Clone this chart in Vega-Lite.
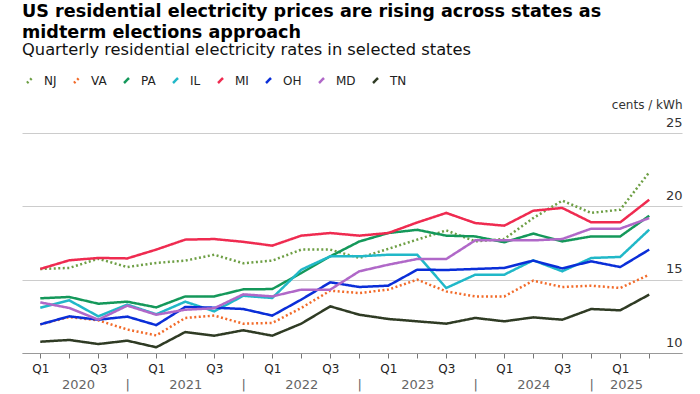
{
  "$schema": "https://vega.github.io/schema/vega-lite/v6.json",
  "width": 660,
  "height": 220,
  "autosize": {"type": "none"},
  "padding": {"left": 22, "top": 133, "right": 18, "bottom": 41},
  "background": "white",
  "title": {
    "text": ["US residential electricity prices are rising across states as", "midterm elections approach"],
    "subtitle": "Quarterly residential electricity rates in selected states",
    "anchor": "start",
    "frame": "group",
    "font": "DejaVu Sans",
    "fontSize": 17.6,
    "fontWeight": "bold",
    "lineHeight": 21,
    "color": "#000",
    "subtitleFont": "DejaVu Sans",
    "subtitleFontSize": 16.3,
    "subtitleColor": "#111",
    "subtitlePadding": 0,
    "offset": 16
  },
  "data": {
    "values": [
      {"state": "NJ", "q": 2020.00, "v": 15.73}, {"state": "NJ", "q": 2020.25, "v": 15.80}, {"state": "NJ", "q": 2020.50, "v": 16.43}, {"state": "NJ", "q": 2020.75, "v": 15.86},
      {"state": "NJ", "q": 2021.00, "v": 16.14}, {"state": "NJ", "q": 2021.25, "v": 16.30}, {"state": "NJ", "q": 2021.50, "v": 16.70}, {"state": "NJ", "q": 2021.75, "v": 16.12},
      {"state": "NJ", "q": 2022.00, "v": 16.30}, {"state": "NJ", "q": 2022.25, "v": 17.05}, {"state": "NJ", "q": 2022.50, "v": 17.05}, {"state": "NJ", "q": 2022.75, "v": 16.48},
      {"state": "NJ", "q": 2023.00, "v": 17.10}, {"state": "NJ", "q": 2023.25, "v": 17.73}, {"state": "NJ", "q": 2023.50, "v": 18.36}, {"state": "NJ", "q": 2023.75, "v": 17.61},
      {"state": "NJ", "q": 2024.00, "v": 17.77}, {"state": "NJ", "q": 2024.25, "v": 19.20}, {"state": "NJ", "q": 2024.50, "v": 20.39}, {"state": "NJ", "q": 2024.75, "v": 19.55},
      {"state": "NJ", "q": 2025.00, "v": 19.77}, {"state": "NJ", "q": 2025.25, "v": 22.32},

      {"state": "VA", "q": 2020.00, "v": 11.95}, {"state": "VA", "q": 2020.25, "v": 12.45}, {"state": "VA", "q": 2020.50, "v": 12.23}, {"state": "VA", "q": 2020.75, "v": 11.60},
      {"state": "VA", "q": 2021.00, "v": 11.20}, {"state": "VA", "q": 2021.25, "v": 12.39}, {"state": "VA", "q": 2021.50, "v": 12.55}, {"state": "VA", "q": 2021.75, "v": 12.00},
      {"state": "VA", "q": 2022.00, "v": 12.05}, {"state": "VA", "q": 2022.25, "v": 13.07}, {"state": "VA", "q": 2022.50, "v": 14.25}, {"state": "VA", "q": 2022.75, "v": 14.09},
      {"state": "VA", "q": 2023.00, "v": 14.32}, {"state": "VA", "q": 2023.25, "v": 15.00}, {"state": "VA", "q": 2023.50, "v": 14.20}, {"state": "VA", "q": 2023.75, "v": 13.86},
      {"state": "VA", "q": 2024.00, "v": 13.86}, {"state": "VA", "q": 2024.25, "v": 14.93}, {"state": "VA", "q": 2024.50, "v": 14.50}, {"state": "VA", "q": 2024.75, "v": 14.59},
      {"state": "VA", "q": 2025.00, "v": 14.43}, {"state": "VA", "q": 2025.25, "v": 15.34},

      {"state": "PA", "q": 2020.00, "v": 13.73}, {"state": "PA", "q": 2020.25, "v": 13.82}, {"state": "PA", "q": 2020.50, "v": 13.36}, {"state": "PA", "q": 2020.75, "v": 13.50},
      {"state": "PA", "q": 2021.00, "v": 13.11}, {"state": "PA", "q": 2021.25, "v": 13.86}, {"state": "PA", "q": 2021.50, "v": 13.86}, {"state": "PA", "q": 2021.75, "v": 14.34},
      {"state": "PA", "q": 2022.00, "v": 14.36}, {"state": "PA", "q": 2022.25, "v": 15.45}, {"state": "PA", "q": 2022.50, "v": 16.59}, {"state": "PA", "q": 2022.75, "v": 17.60},
      {"state": "PA", "q": 2023.00, "v": 18.18}, {"state": "PA", "q": 2023.25, "v": 18.40}, {"state": "PA", "q": 2023.50, "v": 18.00}, {"state": "PA", "q": 2023.75, "v": 17.95},
      {"state": "PA", "q": 2024.00, "v": 17.55}, {"state": "PA", "q": 2024.25, "v": 18.14}, {"state": "PA", "q": 2024.50, "v": 17.61}, {"state": "PA", "q": 2024.75, "v": 17.95},
      {"state": "PA", "q": 2025.00, "v": 17.95}, {"state": "PA", "q": 2025.25, "v": 19.36},

      {"state": "IL", "q": 2020.00, "v": 13.09}, {"state": "IL", "q": 2020.25, "v": 13.59}, {"state": "IL", "q": 2020.50, "v": 12.50}, {"state": "IL", "q": 2020.75, "v": 13.30},
      {"state": "IL", "q": 2021.00, "v": 12.64}, {"state": "IL", "q": 2021.25, "v": 13.50}, {"state": "IL", "q": 2021.50, "v": 12.84}, {"state": "IL", "q": 2021.75, "v": 13.90},
      {"state": "IL", "q": 2022.00, "v": 13.75}, {"state": "IL", "q": 2022.25, "v": 15.68}, {"state": "IL", "q": 2022.50, "v": 16.59}, {"state": "IL", "q": 2022.75, "v": 16.59},
      {"state": "IL", "q": 2023.00, "v": 16.70}, {"state": "IL", "q": 2023.25, "v": 16.70}, {"state": "IL", "q": 2023.50, "v": 14.43}, {"state": "IL", "q": 2023.75, "v": 15.34},
      {"state": "IL", "q": 2024.00, "v": 15.34}, {"state": "IL", "q": 2024.25, "v": 16.32}, {"state": "IL", "q": 2024.50, "v": 15.57}, {"state": "IL", "q": 2024.75, "v": 16.48},
      {"state": "IL", "q": 2025.00, "v": 16.55}, {"state": "IL", "q": 2025.25, "v": 18.41},

      {"state": "MI", "q": 2020.00, "v": 15.73}, {"state": "MI", "q": 2020.25, "v": 16.32}, {"state": "MI", "q": 2020.50, "v": 16.48}, {"state": "MI", "q": 2020.75, "v": 16.45},
      {"state": "MI", "q": 2021.00, "v": 17.05}, {"state": "MI", "q": 2021.25, "v": 17.73}, {"state": "MI", "q": 2021.50, "v": 17.77}, {"state": "MI", "q": 2021.75, "v": 17.58},
      {"state": "MI", "q": 2022.00, "v": 17.32}, {"state": "MI", "q": 2022.25, "v": 18.00}, {"state": "MI", "q": 2022.50, "v": 18.18}, {"state": "MI", "q": 2022.75, "v": 18.00},
      {"state": "MI", "q": 2023.00, "v": 18.18}, {"state": "MI", "q": 2023.25, "v": 18.90}, {"state": "MI", "q": 2023.50, "v": 19.55}, {"state": "MI", "q": 2023.75, "v": 18.86},
      {"state": "MI", "q": 2024.00, "v": 18.68}, {"state": "MI", "q": 2024.25, "v": 19.70}, {"state": "MI", "q": 2024.50, "v": 19.89}, {"state": "MI", "q": 2024.75, "v": 18.91},
      {"state": "MI", "q": 2025.00, "v": 18.91}, {"state": "MI", "q": 2025.25, "v": 20.45},

      {"state": "OH", "q": 2020.00, "v": 11.95}, {"state": "OH", "q": 2020.25, "v": 12.50}, {"state": "OH", "q": 2020.50, "v": 12.27}, {"state": "OH", "q": 2020.75, "v": 12.48},
      {"state": "OH", "q": 2021.00, "v": 11.90}, {"state": "OH", "q": 2021.25, "v": 13.14}, {"state": "OH", "q": 2021.50, "v": 13.09}, {"state": "OH", "q": 2021.75, "v": 13.00},
      {"state": "OH", "q": 2022.00, "v": 12.55}, {"state": "OH", "q": 2022.25, "v": 13.64}, {"state": "OH", "q": 2022.50, "v": 14.82}, {"state": "OH", "q": 2022.75, "v": 14.50},
      {"state": "OH", "q": 2023.00, "v": 14.59}, {"state": "OH", "q": 2023.25, "v": 15.68}, {"state": "OH", "q": 2023.50, "v": 15.66}, {"state": "OH", "q": 2023.75, "v": 15.73},
      {"state": "OH", "q": 2024.00, "v": 15.80}, {"state": "OH", "q": 2024.25, "v": 16.30}, {"state": "OH", "q": 2024.50, "v": 15.77}, {"state": "OH", "q": 2024.75, "v": 16.25},
      {"state": "OH", "q": 2025.00, "v": 15.86}, {"state": "OH", "q": 2025.25, "v": 17.05},

      {"state": "MD", "q": 2020.00, "v": 13.45}, {"state": "MD", "q": 2020.25, "v": 13.07}, {"state": "MD", "q": 2020.50, "v": 12.27}, {"state": "MD", "q": 2020.75, "v": 13.23},
      {"state": "MD", "q": 2021.00, "v": 12.61}, {"state": "MD", "q": 2021.25, "v": 12.95}, {"state": "MD", "q": 2021.50, "v": 13.05}, {"state": "MD", "q": 2021.75, "v": 14.00},
      {"state": "MD", "q": 2022.00, "v": 13.86}, {"state": "MD", "q": 2022.25, "v": 14.32}, {"state": "MD", "q": 2022.50, "v": 14.32}, {"state": "MD", "q": 2022.75, "v": 15.57},
      {"state": "MD", "q": 2023.00, "v": 16.02}, {"state": "MD", "q": 2023.25, "v": 16.41}, {"state": "MD", "q": 2023.50, "v": 16.41}, {"state": "MD", "q": 2023.75, "v": 17.68},
      {"state": "MD", "q": 2024.00, "v": 17.68}, {"state": "MD", "q": 2024.25, "v": 17.68}, {"state": "MD", "q": 2024.50, "v": 17.77}, {"state": "MD", "q": 2024.75, "v": 18.48},
      {"state": "MD", "q": 2025.00, "v": 18.48}, {"state": "MD", "q": 2025.25, "v": 19.20},

      {"state": "TN", "q": 2020.00, "v": 10.77}, {"state": "TN", "q": 2020.25, "v": 10.89}, {"state": "TN", "q": 2020.50, "v": 10.61}, {"state": "TN", "q": 2020.75, "v": 10.84},
      {"state": "TN", "q": 2021.00, "v": 10.39}, {"state": "TN", "q": 2021.25, "v": 11.43}, {"state": "TN", "q": 2021.50, "v": 11.18}, {"state": "TN", "q": 2021.75, "v": 11.55},
      {"state": "TN", "q": 2022.00, "v": 11.18}, {"state": "TN", "q": 2022.25, "v": 12.00}, {"state": "TN", "q": 2022.50, "v": 13.18}, {"state": "TN", "q": 2022.75, "v": 12.61},
      {"state": "TN", "q": 2023.00, "v": 12.32}, {"state": "TN", "q": 2023.25, "v": 12.16}, {"state": "TN", "q": 2023.50, "v": 12.00}, {"state": "TN", "q": 2023.75, "v": 12.39},
      {"state": "TN", "q": 2024.00, "v": 12.16}, {"state": "TN", "q": 2024.25, "v": 12.43}, {"state": "TN", "q": 2024.50, "v": 12.27}, {"state": "TN", "q": 2024.75, "v": 13.00},
      {"state": "TN", "q": 2025.00, "v": 12.91}, {"state": "TN", "q": 2025.25, "v": 13.98}
    ]
  },
  "resolve": {"scale": {"x": "independent"}, "axis": {"x": "independent"}},
  "layer": [
    {
      "mark": {"type": "line", "strokeWidth": 2.5, "strokeCap": "butt", "strokeJoin": "miter"},
      "encoding": {
        "x": {
          "field": "q", "type": "quantitative",
          "scale": {"domain": [2019.8425, 2025.5325], "nice": false, "zero": false},
          "axis": {
            "orient": "bottom",
            "title": null,
            "values": [2020, 2020.25, 2020.5, 2020.75, 2021, 2021.25, 2021.5, 2021.75, 2022, 2022.25, 2022.5, 2022.75, 2023, 2023.25, 2023.5, 2023.75, 2024, 2024.25, 2024.5, 2024.75, 2025, 2025.25],
            "labelExpr": "round((datum.value - floor(datum.value)) * 4) == 0 ? 'Q1' : (round((datum.value - floor(datum.value)) * 4) == 2 ? 'Q3' : '')",
            "grid": false,
            "domain": true,
            "domainColor": "#999",
            "domainWidth": 1,
            "ticks": true,
            "tickColor": "#777",
            "tickSize": 5,
            "tickWidth": 1,
            "labelFont": "DejaVu Sans",
            "labelFontSize": 12,
            "labelColor": "#222",
            "labelPadding": 5,
            "labelOverlap": false,
            "labelFlush": false
          }
        },
        "y": {
          "field": "v", "type": "quantitative",
          "scale": {"domain": [10, 25], "nice": false, "zero": false},
          "axis": {
            "orient": "right",
            "title": "cents / kWh",
            "titleAngle": 0,
            "titleAlign": "right",
            "titleBaseline": "alphabetic",
            "titleX": 0,
            "titleY": -25,
            "titleFont": "DejaVu Sans",
            "titleFontSize": 12,
            "titleFontWeight": "normal",
            "titleColor": "#333",
            "values": [10, 15, 20, 25],
            "grid": true,
            "gridColor": "#cccccc",
            "gridWidth": 1,
            "domain": false,
            "ticks": false,
            "tickSize": 0,
            "labelAlign": "right",
            "labelBaseline": "alphabetic",
            "labelOffset": -7,
            "labelPadding": 0,
            "labelFont": "DejaVu Sans",
            "labelFontSize": 13,
            "labelColor": "#333"
          }
        },
        "color": {
          "field": "state", "type": "nominal",
          "scale": {
            "domain": ["NJ", "VA", "PA", "IL", "MI", "OH", "MD", "TN"],
            "range": ["#6e9f45", "#f26b2a", "#14985a", "#21b8c8", "#ef2b50", "#0a2ed8", "#b068c8", "#2f3b24"]
          },
          "legend": {
            "title": null,
            "orient": "none",
            "direction": "horizontal",
            "legendX": 1,
            "legendY": -59,
            "symbolType": "M-0.5,0.5L0.5,-0.5",
            "symbolSize": 100,
            "symbolStrokeWidth": 2.5,
            "labelFont": "DejaVu Sans",
            "labelFontSize": 12,
            "labelColor": "#222",
            "labelOffset": 8,
            "columnPadding": 12
          }
        },
        "strokeDash": {
          "field": "state", "type": "nominal",
          "scale": {
            "domain": ["NJ", "VA", "PA", "IL", "MI", "OH", "MD", "TN"],
            "range": [[2, 2.5], [2, 2.5], [1, 0], [1, 0], [1, 0], [1, 0], [1, 0], [1, 0]]
          },
          "legend": null
        }
      }
    },
    {
      "mark": {"type": "rule", "opacity": 0},
      "encoding": {
        "x": {
          "field": "q", "type": "quantitative",
          "scale": {"domain": [2019.8425, 2025.5325], "nice": false, "zero": false},
          "axis": {
            "orient": "bottom",
            "title": null,
            "values": [2020.325, 2020.75, 2021.25, 2021.75, 2022.25, 2022.75, 2023.25, 2023.75, 2024.25, 2024.75, 2025.05],
            "labelExpr": "(datum.value - floor(datum.value)) == 0.75 ? '|' : '' + floor(datum.value)",
            "grid": false,
            "domain": false,
            "ticks": false,
            "tickSize": 0,
            "labelFont": "DejaVu Sans",
            "labelFontSize": 13,
            "labelColor": "#666",
            "labelPadding": 25,
            "labelOverlap": false,
            "labelFlush": false
          }
        }
      }
    }
  ],
  "config": {
    "view": {"stroke": null}
  }
}
